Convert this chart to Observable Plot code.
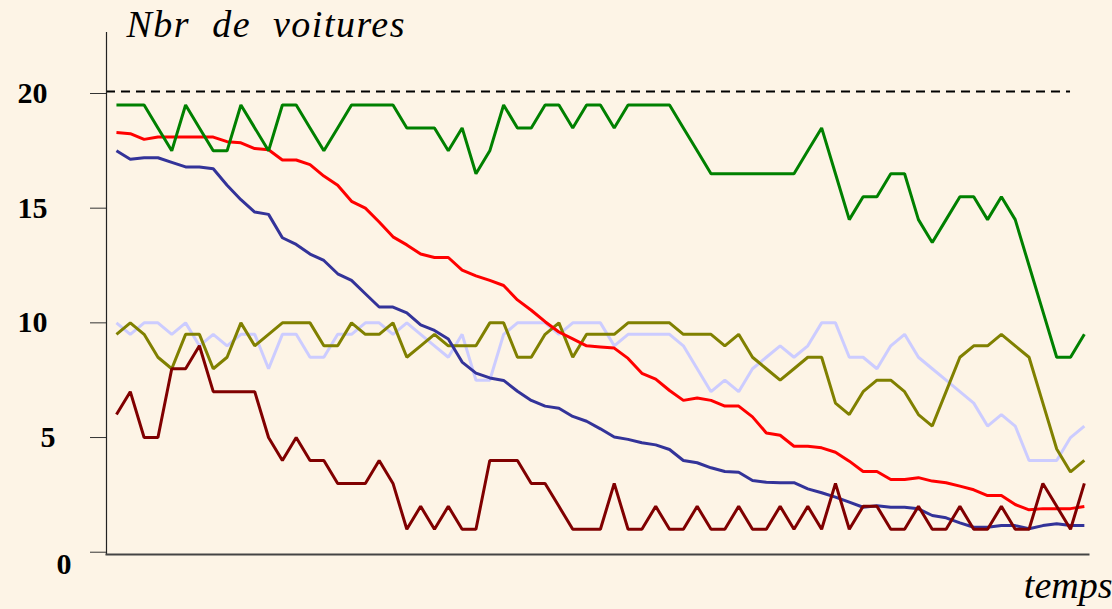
<!DOCTYPE html>
<html><head><meta charset="utf-8">
<script src="https://cdn.jsdelivr.net/npm/d3@7"></script>
<script src="https://cdn.jsdelivr.net/npm/@observablehq/plot@0.6"></script>
<style>
html,body{margin:0;padding:0;background:#FDF4E6;}
#chart{width:1112px;height:609px;overflow:hidden;}
.titre text{letter-spacing:1.5px;}
</style></head><body><div id="chart"></div>
<script>
// Categories / ticks
const seriesNames = ["lavande", "olive", "bleu", "rouge", "vert", "bordeaux"];
const seriesColors = ["#CCCCFF", "#808000", "#333399", "#FF0000", "#008000", "#800000"];
const yTicksLong = [10, 15, 20];
const yTicksShort = [5];
const yTickZero = [0];
const limite = [20];
const titre = "Nbr\u00a0\u00a0de\u00a0\u00a0voitures";
const axeX = "temps";

// Series values (one per time step)
const vert = [19.5,19.5,19.5,18.5,17.5,19.5,18.5,17.5,17.5,19.5,18.5,17.5,19.5,19.5,18.5,17.5,18.5,19.5,19.5,19.5,19.5,18.5,18.5,18.5,17.5,18.5,16.5,17.5,19.5,18.5,18.5,19.5,19.5,18.5,19.5,19.5,18.5,19.5,19.5,19.5,19.5,18.5,17.5,16.5,16.5,16.5,16.5,16.5,16.5,16.5,17.5,18.5,16.5,14.5,15.5,15.5,16.5,16.5,14.5,13.5,14.5,15.5,15.5,14.5,15.5,14.5,12.5,10.5,8.5,8.5,9.5];
const rouge = [18.3,18.25,18.0,18.1,18.1,18.1,18.1,18.1,17.9,17.85,17.6,17.55,17.1,17.1,16.9,16.4,16.0,15.3,15.0,14.4,13.75,13.4,13.0,12.85,12.85,12.3,12.05,11.85,11.63,11.0,10.55,10.05,9.6,9.3,9.0,8.95,8.9,8.45,7.8,7.55,7.05,6.62,6.72,6.62,6.37,6.37,5.9,5.2,5.1,4.62,4.62,4.55,4.36,3.97,3.52,3.52,3.17,3.17,3.25,3.1,3.03,2.88,2.72,2.47,2.47,2.08,1.85,1.9,1.9,1.9,1.99];
const bleu = [17.5,17.13,17.2,17.2,17.0,16.8,16.8,16.72,16.0,15.37,14.83,14.73,13.71,13.42,13.0,12.72,12.14,11.85,11.27,10.69,10.69,10.44,9.91,9.67,9.3,8.29,7.81,7.6,7.49,7.02,6.62,6.37,6.28,5.92,5.71,5.38,5.02,4.92,4.77,4.68,4.48,4.0,3.9,3.68,3.52,3.49,3.13,3.05,3.03,3.03,2.76,2.59,2.4,2.18,1.96,2.03,1.96,1.96,1.89,1.6,1.5,1.28,1.09,1.09,1.16,1.16,1.02,1.16,1.24,1.16,1.16];
const bordeaux = [6,7,5,5,8,8,9,7,7,7,7,5,4,5,4,4,3,3,3,4,3,1,2,1,2,1,1,4,4,4,3,3,2,1,1,1,3,1,1,2,1,1,2,1,1,2,1,1,2,1,2,1,3,1,2,2,1,1,2,1,1,2,1,1,2,1,1,3,2,1,3];
const olive = [9.5,10,9.5,8.5,8,9.5,9.5,8,8.5,10,9,9.5,10,10,10,9,9,10,9.5,9.5,10,8.5,9,9.5,9,9,9,10,10,8.5,8.5,9.5,10,8.5,9.5,9.5,9.5,10,10,10,10,9.5,9.5,9.5,9,9.5,8.5,8,7.5,8,8.5,8.5,6.5,6,7,7.5,7.5,7,6,5.5,7,8.5,9,9,9.5,9,8.5,6.5,4.5,3.5,4];
const lavande = [10,9.5,10,10,9.5,10,9,9.5,9,9.5,9.5,8,9.5,9.5,8.5,8.5,9.5,9.5,10,10,9.5,10,9.5,9,8.5,9.5,7.5,7.5,9.5,10,10,10,9.5,10,10,10,9,9.5,9.5,9.5,9.5,9,8,7,7.5,7,8,8.5,9,8.5,9,10,10,8.5,8.5,8,9,9.5,8.5,8,7.5,7,6.5,5.5,6,5.5,4,4,4,5,5.5];

const valuesBySeries = {lavande, olive, bleu, rouge, vert, bordeaux};
const table = seriesNames.flatMap(name =>
  valuesBySeries[name].map((v, t) => ({t, v, serie: name})));
const lastDashIndex = 69;

const serif = "Liberation Serif, Times New Roman, serif";

const tickOpts = {tickSize: 16, fontSize: 30, fontWeight: "bold", label: null, stroke: "#333", tickFormat: d => String(d), fontFamily: serif};

const chart = Plot.plot({
  width: 1112,
  height: 609,
  marginLeft: 106,
  marginRight: 24,
  marginTop: 32,
  marginBottom: 55,
  style: {background: "#FDF4E6", fontFamily: serif, color: "#000", overflow: "visible"},
  x: {domain: [-0.72, 70.3], axis: null},
  y: {domain: [-0.1, 22.66], axis: null},
  color: {domain: seriesNames, range: seriesColors},
  marks: [
    Plot.ruleY(limite, {x1: -0.72, x2: lastDashIndex, stroke: "#000", strokeWidth: 2, strokeDasharray: "9,6", dy: -2}),
    Plot.axisY({...tickOpts, ticks: yTicksLong, tickPadding: 43}),
    Plot.axisY({...tickOpts, ticks: yTicksShort, tickPadding: 35}),
    Plot.axisY({...tickOpts, ticks: yTickZero, tickPadding: 35, text: null}),
    Plot.axisY({...tickOpts, ticks: yTickZero, tickPadding: 35, tickSize: 0, stroke: null, dy: 12}),
    Plot.frame({anchor: "left", stroke: "#222", strokeWidth: 1.2}),
    Plot.frame({anchor: "bottom", stroke: "#444", strokeWidth: 2}),
    Plot.line(table, {x: "t", y: "v", z: "serie", stroke: "serie", strokeWidth: 3, strokeLinejoin: "miter", strokeLinecap: "butt"}),
    Plot.text([titre], {frameAnchor: "top-left", dx: 20, dy: 4, lineAnchor: "bottom", textAnchor: "start", fontSize: 38, fontStyle: "italic", fill: "#000", fontFamily: serif, className: "titre"}),
    Plot.text([axeX], {frameAnchor: "bottom-right", dx: 24, dy: 43, lineAnchor: "bottom", textAnchor: "end", fontSize: 38, fontStyle: "italic", fill: "#000", fontFamily: serif})
  ]
});
document.getElementById("chart").append(chart);
</script>
</body></html>
